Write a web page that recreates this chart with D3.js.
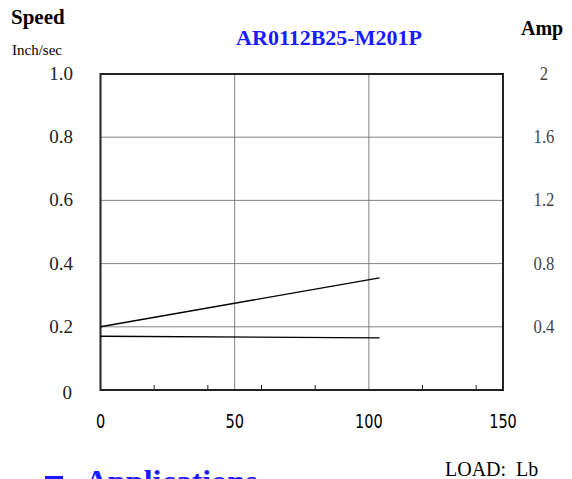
<!DOCTYPE html>
<html>
<head>
<meta charset="utf-8">
<script src="https://cdn.jsdelivr.net/npm/d3@7"></script>
<style>
  body { margin: 0; background: #fff; }
  svg { display: block; }
</style>
</head>
<body>
<svg></svg>
<script>
// data
const loadLb = [0, 104];
const speedInchSec = [0.17, 0.165];
const currentAmp = [0.4, 0.71];
const speedTicks = [0, 0.2, 0.4, 0.6, 0.8, 1.0];
const speedTickLabels = ["0", "0.2", "0.4", "0.6", "0.8", "1.0"];
const ampTicks = [0.4, 0.8, 1.2, 1.6, 2];
const ampTickLabels = ["0.4", "0.8", "1.2", "1.6", "2"];
const loadTicks = [0, 50, 100, 150];
const loadMinorTicks = [20, 40, 60, 80, 120, 140];

const width = 572, height = 479;
const margin = { top: 74, right: 69, bottom: 89, left: 100.5 };

const svg = d3.select('svg')
              .attr('width', width)
              .attr('height', height);

const x = d3.scaleLinear().domain([0, 150]).range([margin.left, width - margin.right]);
const y = d3.scaleLinear().domain([0, 1]).range([height - margin.bottom, margin.top]);
const yAmp = d3.scaleLinear().domain([0, 2]).range([height - margin.bottom, margin.top]);

const serif = "'Liberation Serif', 'Times New Roman', serif";
const narrow = "'DejaVu Sans Condensed', 'Liberation Sans', sans-serif";

// grid
svg.append('g')
   .selectAll('line')
   .data(speedTicks.filter(d => d > 0 && d < 1))
   .join('line')
   .attr('x1', x(0)).attr('x2', x(150))
   .attr('y1', d => y(d)).attr('y2', d => y(d))
   .attr('stroke', '#666').attr('stroke-width', 0.8);

svg.append('g')
   .selectAll('line')
   .data([50, 100])
   .join('line')
   .attr('x1', d => x(d)).attr('x2', d => x(d))
   .attr('y1', y(0)).attr('y2', y(1))
   .attr('stroke', '#666').attr('stroke-width', 0.8);

// minor ticks on x axis
svg.append('g')
   .selectAll('line')
   .data(loadMinorTicks)
   .join('line')
   .attr('x1', d => x(d)).attr('x2', d => x(d))
   .attr('y1', y(0)).attr('y2', y(0) - 5)
   .attr('stroke', '#222').attr('stroke-width', 1);

// frame
svg.append('rect')
   .attr('x', x(0)).attr('y', y(1))
   .attr('width', x(150) - x(0)).attr('height', y(0) - y(1))
   .attr('fill', 'none').attr('stroke', '#222').attr('stroke-width', 2);

// curves
const line = (yy) => d3.line().x(d => x(d[0])).y(d => yy(d[1]));

svg.append('path')
   .datum(d3.zip(loadLb, currentAmp))
   .attr('d', line(yAmp))
   .attr('fill', 'none').attr('stroke', '#000').attr('stroke-width', 1.4);

svg.append('path')
   .datum(d3.zip(loadLb, speedInchSec))
   .attr('d', line(y))
   .attr('fill', 'none').attr('stroke', '#000').attr('stroke-width', 1.4);

// left tick labels
svg.append('g')
   .selectAll('text')
   .data(speedTicks)
   .join('text')
   .attr('x', d => d === 0 ? 72 : 73)
   .attr('y', d => y(d) + (d === 0 ? 9 : 6))
   .attr('text-anchor', 'end')
   .attr('font-family', serif).attr('font-size', 19).attr('fill', '#222')
   .text((d, i) => speedTickLabels[i]);

// right tick labels (slightly narrower, lighter face)
svg.append('g')
   .selectAll('text')
   .data(ampTicks)
   .join('text')
   .attr('transform', d => `translate(544,${yAmp(d) + 6}) scale(0.88,1)`)
   .attr('text-anchor', 'middle')
   .attr('font-family', serif).attr('font-size', 19).attr('fill', '#444')
   .text((d, i) => ampTickLabels[i]);

// bottom tick labels
svg.append('g')
   .selectAll('text')
   .data(loadTicks)
   .join('text')
   .attr('transform', d => `translate(${x(d)},428) scale(0.85,1)`)
   .attr('text-anchor', 'middle')
   .attr('font-family', narrow).attr('font-size', 19).attr('fill', '#000')
   .text(d => d);

// titles
svg.append('text').attr('x', 11).attr('y', 24)
   .attr('font-family', serif).attr('font-weight', 'bold').attr('font-size', 21)
   .text('Speed');
svg.append('text').attr('x', 12).attr('y', 55)
   .attr('font-family', serif).attr('font-size', 15)
   .text('Inch/sec');
svg.append('text').attr('x', 329).attr('y', 45)
   .attr('text-anchor', 'middle')
   .attr('font-family', serif).attr('font-weight', 'bold').attr('font-size', 22)
   .attr('fill', '#1a1aff')
   .text('AR0112B25-M201P');
svg.append('text').attr('x', 521).attr('y', 35)
   .attr('font-family', serif).attr('font-weight', 'bold').attr('font-size', 20)
   .text('Amp');
svg.append('text').attr('x', 445).attr('y', 476)
   .attr('font-family', serif).attr('font-size', 20)
   .attr('xml:space', 'preserve')
   .text('LOAD:  Lb');

// cut-off heading at the bottom
svg.append('rect').attr('x', 45).attr('y', 476).attr('width', 18).attr('height', 6)
   .attr('fill', '#1a1aff');
svg.append('text').attr('x', 85).attr('y', 492)
   .attr('font-family', serif).attr('font-weight', 'bold').attr('font-size', 32)
   .attr('fill', '#1a1aff')
   .text('Applications');
</script>
</body>
</html>
